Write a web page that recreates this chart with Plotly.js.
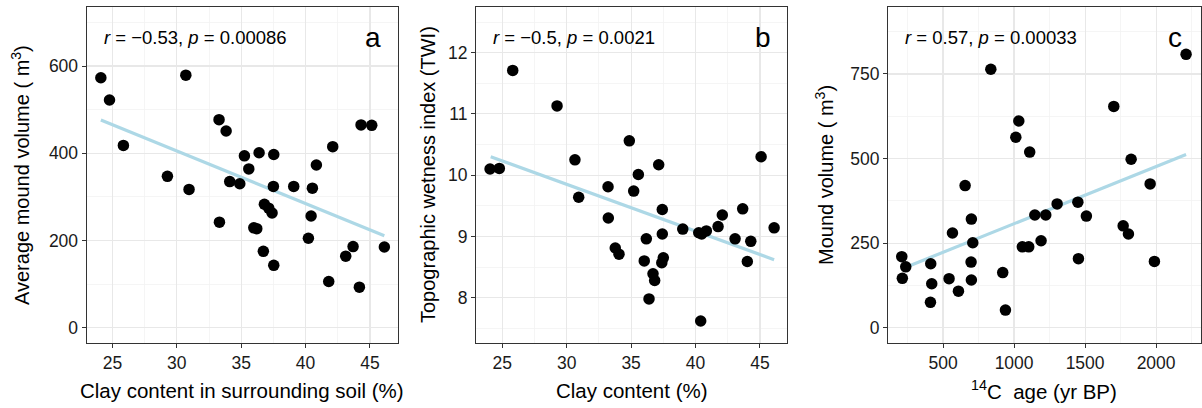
<!DOCTYPE html>
<html>
<head>
<meta charset="utf-8">
<script src="https://cdn.plot.ly/plotly-3.0.1.min.js"></script>
<style>html,body{margin:0;padding:0;background:#fff;}#chart{width:1202px;height:408px;}</style>
</head>
<body>
<div id="chart"></div>
<script>
// Panel a: clay content in surrounding soil (%) vs average mound volume (m3)
const clayA = [24.1, 24.77, 25.85, 30.70, 29.27, 30.95, 33.28, 33.83, 33.31, 34.11, 34.89, 35.25, 35.59, 36.39, 37.53, 37.50, 36.80, 37.14, 37.40, 35.98, 36.21, 36.72, 37.53, 39.08, 40.53, 40.84, 42.11, 40.43, 40.22, 44.31, 45.14, 43.69, 43.12, 46.12, 41.80, 44.18];
const volA  = [573, 522, 418, 579, 347, 317, 477, 451, 242, 335, 330, 394, 364, 401, 397, 324, 283, 274, 263, 229, 227, 175, 143, 324, 320, 373, 415, 256, 205, 465, 464, 186, 164, 185, 106, 93];
const fitAx = [24.1, 46.12];
const fitAy = [476, 211];

// Panel b: clay content (%) vs topographic wetness index (TWI)
const clayB = [24.05, 24.77, 25.81, 29.25, 30.64, 30.93, 33.21, 33.23, 33.77, 34.06, 34.86, 35.20, 35.56, 37.14, 36.18, 36.02, 36.39, 36.70, 36.83, 37.42, 37.42, 37.50, 37.38, 39.01, 40.25, 40.48, 40.84, 41.75, 42.08, 40.40, 43.07, 43.66, 44.29, 44.02, 45.09, 46.10];
const twiB  = [10.10, 10.11, 11.71, 11.13, 10.25, 9.64, 9.81, 9.30, 8.81, 8.71, 10.56, 9.74, 10.01, 10.17, 8.96, 8.60, 7.98, 8.39, 8.28, 9.44, 9.04, 8.65, 8.57, 9.12, 9.06, 9.04, 9.09, 9.16, 9.35, 7.62, 8.96, 9.45, 8.92, 8.59, 10.30, 9.14];
const fitBx = [24.1, 46.1];
const fitBy = [10.30, 8.62];

// Panel c: 14C age (yr BP) vs mound volume (m3)
const ageC = [209, 237, 213, 413, 420, 411, 542, 566, 608, 655, 699, 709, 697, 699, 836, 920, 939, 1012, 1033, 1058, 1103, 1110, 1146, 1190, 1223, 1303, 1449, 1453, 1509, 1702, 1768, 1805, 1824, 1958, 1988, 2211];
const volC = [210, 180, 146, 189, 130, 75, 145, 280, 108, 420, 321, 251, 194, 141, 764, 163, 52, 563, 611, 239, 239, 519, 333, 257, 333, 366, 371, 204, 330, 654, 301, 277, 498, 425, 196, 808];
const fitCx = [216, 2211];
const fitCy = [175, 512];

const statLabels = ['<i>r</i> = \u22120.53, <i>p</i> = 0.00086', '<i>r</i> = \u22120.5, <i>p</i> = 0.0021', '<i>r</i> = 0.57, <i>p</i> = 0.00033'];
const panelLetters = ['a', 'b', 'c'];
const xTitles = ['Clay content in surrounding soil (%)', 'Clay content (%)', '<sup>14</sup>C  age (yr BP)'];
const yTitles = ['Average mound volume ( m<sup>3</sup>)', 'Topographic wetness index (TWI)', 'Mound volume ( m<sup>3</sup>)'];

const W = 1202, H = 408;
const FONT = 'Liberation Sans, Arial, Helvetica, sans-serif';
const px = v => v / W;
const py = v => 1 - v / H;

const dom = [[86.7, 398], [476, 787], [888, 1200.7]];
const yDom = [py(342.7), py(7.3)];

function pts(x, y, n) {
  return {x: x, y: y, xaxis: 'x' + n, yaxis: 'y' + n, type: 'scatter', mode: 'markers',
    marker: {color: '#000', size: 11.5, line: {width: 0}}, hoverinfo: 'x+y', showlegend: false};
}
function fit(x, y, n) {
  return {x: x, y: y, xaxis: 'x' + n, yaxis: 'y' + n, type: 'scatter', mode: 'lines',
    line: {color: '#ADD8E6', width: 3.2}, hoverinfo: 'skip', showlegend: false};
}

const data = [
  fit(fitAx, fitAy, ''), pts(clayA, volA, ''),
  fit(fitBx, fitBy, '2'), pts(clayB, twiB, '2'),
  fit(fitCx, fitCy, '3'), pts(ageC, volC, '3')
];

function axis(extra) {
  return Object.assign({
    showline: true, mirror: true, linecolor: '#333333', linewidth: 1.1,
    ticks: 'outside', ticklen: 4, tickwidth: 1, tickcolor: '#333333',
    showgrid: true, gridcolor: '#E8E8E8', gridwidth: 1.2, zeroline: false,
    tickfont: {family: FONT, size: 17.5, color: '#1a1a1a'}, fixedrange: true
  }, extra);
}
const minorStyle = {showgrid: true, gridcolor: '#F2F2F2', gridwidth: 0.8, ticks: ''};

const layout = {
  width: W, height: H, margin: {l: 0, r: 0, t: 0, b: 0},
  paper_bgcolor: '#fff', plot_bgcolor: '#fff', showlegend: false,
  font: {family: FONT, color: '#000'},
  xaxis: axis({domain: [px(dom[0][0]), px(dom[0][1])], anchor: 'y', range: [23.0, 47.18], tick0: 25, dtick: 5, minor: Object.assign({dtick: 2.5}, minorStyle)}),
  yaxis: axis({domain: yDom, anchor: 'x', range: [-34.4, 734.6], tick0: 0, dtick: 200, minor: Object.assign({dtick: 100}, minorStyle)}),
  xaxis2: axis({domain: [px(dom[1][0]), px(dom[1][1])], anchor: 'y2', range: [22.96, 47.1], tick0: 25, dtick: 5, minor: Object.assign({dtick: 2.5}, minorStyle)}),
  yaxis2: axis({domain: yDom, anchor: 'x2', range: [7.265, 12.74], tick0: 8, dtick: 1, minor: Object.assign({dtick: 0.5}, minorStyle)}),
  xaxis3: axis({domain: [px(dom[2][0]), px(dom[2][1])], anchor: 'y3', range: [112, 2314], tick0: 500, dtick: 500, minor: Object.assign({dtick: 250}, minorStyle)}),
  yaxis3: axis({domain: yDom, anchor: 'x3', range: [-44.3, 947], tick0: 0, dtick: 250, minor: Object.assign({dtick: 125}, minorStyle)}),
  annotations: []
};

const statX = [102, 491, 903];
const letterX = [383, 773, 1184];
const yTitleX = [20, 428, 824];
for (let i = 0; i < 3; i++) {
  layout.annotations.push({xref: 'paper', yref: 'paper', x: px(statX[i]), y: py(37), xanchor: 'left', yanchor: 'middle',
    text: statLabels[i], showarrow: false, font: {family: FONT, size: 18.5, color: '#000'}});
  layout.annotations.push({xref: 'paper', yref: 'paper', x: px(letterX[i]), y: py(37), xanchor: 'right', yanchor: 'middle',
    text: panelLetters[i], showarrow: false, font: {family: FONT, size: 28, color: '#000'}});
  layout.annotations.push({xref: 'paper', yref: 'paper', x: px((dom[i][0] + dom[i][1]) / 2), y: py(390), xanchor: 'center', yanchor: 'middle',
    text: xTitles[i], showarrow: false, font: {family: FONT, size: 20.5, color: '#000'}});
  layout.annotations.push({xref: 'paper', yref: 'paper', x: px(yTitleX[i]), y: py(175), xanchor: 'center', yanchor: 'middle', textangle: -90,
    text: yTitles[i], showarrow: false, font: {family: FONT, size: 20, color: '#000'}});
}

Plotly.newPlot('chart', data, layout, {staticPlot: true, displayModeBar: false});
</script>
</body>
</html>
